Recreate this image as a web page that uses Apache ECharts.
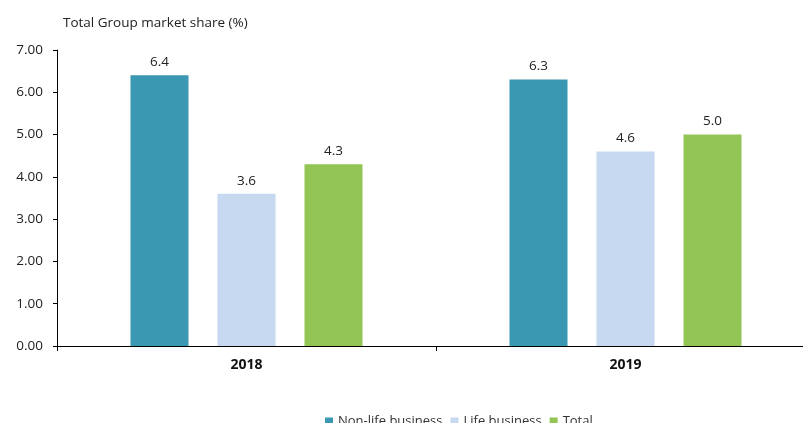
<!DOCTYPE html>
<html>
<head>
<meta charset="utf-8">
<script src="https://cdn.jsdelivr.net/npm/echarts@6/dist/echarts.min.js"></script>
<style>
  html, body { margin: 0; padding: 0; background: #fff; overflow: hidden; }
  #chart { width: 815px; height: 423px; }
</style>
</head>
<body>
<div id="chart"></div>
<script>
const years = ['2018', '2019'];
const nonLife = [6.4, 6.3];
const life = [3.6, 4.6];
const total = [4.3, 5.0];
const yTicks = { min: 0, max: 7, interval: 1 };

const font = 'Open Sans, DejaVu Sans, sans-serif';
const chart = echarts.init(document.getElementById('chart'));

function bar(name, data, color) {
  return {
    name,
    type: 'bar',
    data,
    barWidth: 58,
    barGap: '50%',
    itemStyle: { color },
    label: {
      show: true,
      position: 'top',
      distance: 6,
      color: '#222',
      fontFamily: font,
      fontSize: 13.5,
      formatter: (p) => p.value.toFixed(1)
    }
  };
}

chart.setOption({
  animation: false,
  title: {
    text: 'Total Group market share (%)',
    left: 58,
    top: 11,
    textStyle: { fontFamily: font, fontSize: 13.5, fontWeight: 'normal', color: '#222' }
  },
  legend: {
    bottom: -10,
    left: 320,
    itemWidth: 8,
    itemHeight: 8,
    itemGap: 8,
    icon: 'rect',
    textStyle: { fontFamily: font, fontSize: 13, color: '#333' }
  },
  grid: { left: 57, right: 0, top: 50, bottom: 77, containLabel: false },
  xAxis: {
    type: 'category',
    data: years,
    axisLine: { lineStyle: { color: '#000', width: 1 } },
    axisTick: { show: true, length: 5, lineStyle: { color: '#000' } },
    axisLabel: { fontFamily: font, fontSize: 14, fontWeight: 'bold', color: '#111', margin: 12 }
  },
  yAxis: {
    type: 'value',
    min: yTicks.min,
    max: yTicks.max,
    interval: yTicks.interval,
    splitLine: { show: false },
    axisLine: { show: true, lineStyle: { color: '#000', width: 1 } },
    axisTick: { show: true, length: 4, lineStyle: { color: '#000' } },
    axisLabel: {
      fontFamily: font,
      fontSize: 13.5,
      color: '#222',
      margin: 14,
      formatter: (v) => v.toFixed(2)
    }
  },
  series: [
    bar('Non-life business', nonLife, '#3a98b2'),
    bar('Life business', life, '#c6d9f0'),
    bar('Total', total, '#92c554')
  ]
});
</script>
</body>
</html>
